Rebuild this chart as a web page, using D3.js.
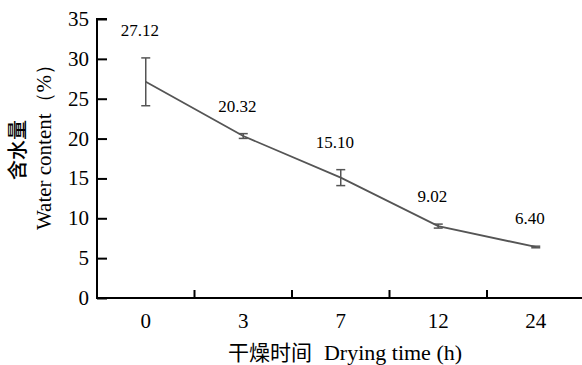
<!DOCTYPE html>
<html>
<head>
<meta charset="utf-8">
<script src="https://cdn.jsdelivr.net/npm/d3@7"></script>
<style>
  body { margin: 0; background: #fff; }
</style>
</head>
<body>
<div id="container"></div>
<script>
// drying time categories (h)
const times = ["0", "3", "7", "12", "24"];
// mean water content (%)
const water = [27.12, 20.32, 15.10, 9.02, 6.40];
// error bar half widths
const errors = [3.0, 0.3, 1.0, 0.25, 0.1];
const yTicks = [0, 5, 10, 15, 20, 25, 30, 35];

const width = 582;
const height = 365;
const padLeft = 97;
const padTop = 19;
const padBottom = 298;
const serif = "'Liberation Serif', Tinos, 'Times New Roman', 'DejaVu Serif', serif";
const cjk = "'Noto Sans CJK SC', sans-serif";

const svg = d3
  .select("#container")
  .append("svg")
  .attr("width", width)
  .attr("height", height)
  .attr("font-family", serif);

// scales
var scaleX = d3.scaleBand().domain(times).range([padLeft, padLeft + 5 * 97.5]);
var scaleY = d3.scaleLinear().domain([0, 35]).range([padBottom, padTop]);

// y axis, ticks pointing inward
var yAxis = d3.axisRight(scaleY).tickValues(yTicks).tickSize(10).tickFormat("");
var gy = svg.append("g").attr("transform", "translate(" + padLeft + ",0)").call(yAxis);
gy.select(".domain").attr("stroke-width", 2).attr("d", "M10," + padTop + "H0V" + padBottom);
gy.selectAll(".tick line").attr("stroke-width", 2);

svg
  .selectAll(".ylab")
  .data(yTicks)
  .enter()
  .append("text")
  .attr("class", "ylab")
  .attr("x", padLeft - 8)
  .attr("y", (d) => scaleY(d) + 7)
  .attr("text-anchor", "end")
  .style("font-family", serif)
  .style("font-size", "21px")
  .text((d) => d);

// x axis, ticks between categories pointing up
var xEdges = times.slice(1).map((t) => scaleX(t));
var gx = svg.append("g");
gx.append("line")
  .attr("x1", padLeft - 1)
  .attr("x2", width)
  .attr("y1", padBottom)
  .attr("y2", padBottom)
  .attr("stroke", "#000")
  .attr("stroke-width", 2);
gx.selectAll(".xtick")
  .data(xEdges)
  .enter()
  .append("line")
  .attr("x1", (d) => d)
  .attr("x2", (d) => d)
  .attr("y1", padBottom)
  .attr("y2", padBottom - 8)
  .attr("stroke", "#000")
  .attr("stroke-width", 2);

svg
  .selectAll(".xlab")
  .data(times)
  .enter()
  .append("text")
  .attr("class", "xlab")
  .attr("x", (d) => scaleX(d) + scaleX.bandwidth() / 2)
  .attr("y", 328)
  .attr("text-anchor", "middle")
  .style("font-family", serif)
  .style("font-size", "21px")
  .text((d) => d);

// line
var cx = (i) => scaleX(times[i]) + scaleX.bandwidth() / 2;
svg
  .append("path")
  .datum(water)
  .attr("fill", "none")
  .attr("stroke", "#555")
  .attr("stroke-width", 1.8)
  .attr(
    "d",
    d3
      .line()
      .x((d, i) => cx(i))
      .y((d) => scaleY(d))
  );

// error bars
var eb = svg.selectAll(".err").data(water).enter().append("g").attr("class", "err");
eb.append("line")
  .attr("x1", (d, i) => cx(i))
  .attr("x2", (d, i) => cx(i))
  .attr("y1", (d, i) => scaleY(d + errors[i]))
  .attr("y2", (d, i) => scaleY(d - errors[i]))
  .attr("stroke", "#555")
  .attr("stroke-width", 1.5);
eb.append("line")
  .attr("x1", (d, i) => cx(i) - 4.5)
  .attr("x2", (d, i) => cx(i) + 4.5)
  .attr("y1", (d, i) => scaleY(d + errors[i]))
  .attr("y2", (d, i) => scaleY(d + errors[i]))
  .attr("stroke", "#555")
  .attr("stroke-width", 1.5);
eb.append("line")
  .attr("x1", (d, i) => cx(i) - 4.5)
  .attr("x2", (d, i) => cx(i) + 4.5)
  .attr("y1", (d, i) => scaleY(d - errors[i]))
  .attr("y2", (d, i) => scaleY(d - errors[i]))
  .attr("stroke", "#555")
  .attr("stroke-width", 1.5);

// value labels
svg
  .selectAll(".val")
  .data(water)
  .enter()
  .append("text")
  .attr("class", "val")
  .attr("x", (d, i) => cx(i) - 6)
  .attr("y", (d, i) => scaleY(d + errors[i]) - 22)
  .attr("text-anchor", "middle")
  .style("font-family", serif)
  .style("font-size", "17px")
  .text((d) => d.toFixed(2));

// axis titles
svg
  .append("text")
  .attr("transform", "translate(25,150) rotate(-90)")
  .attr("text-anchor", "middle")
  .style("font-family", cjk)
  .style("font-size", "20px")
  .style("font-weight", "500")
  .text("含水量");
svg
  .append("text")
  .attr("transform", "translate(51,142) rotate(-90)")
  .attr("text-anchor", "middle")
  .style("font-family", serif)
  .style("font-size", "21px")
  .text("Water content（%）");

var xt = svg
  .append("text")
  .attr("x", 345)
  .attr("y", 360)
  .attr("text-anchor", "middle")
  .style("font-family", serif)
  .style("font-size", "22px");
xt.append("tspan").style("font-family", cjk).style("font-size", "21px").text("干燥时间");
xt.append("tspan").attr("dx", 12).text("Drying time (h)");
</script>
</body>
</html>
